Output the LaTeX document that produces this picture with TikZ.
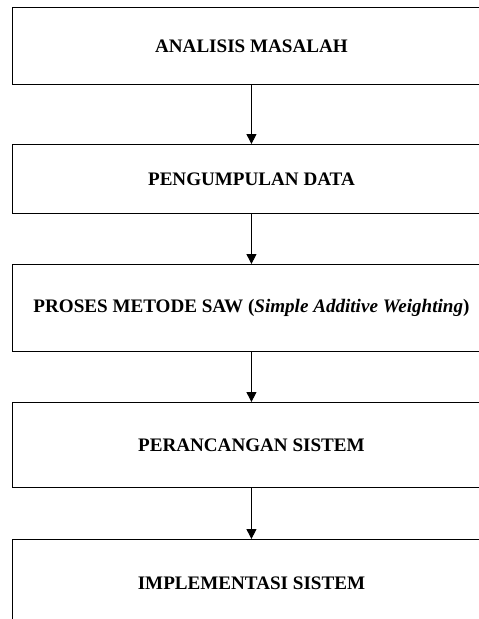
\documentclass[tikz,border=0pt]{standalone}
\usepackage{fontspec}
\setmainfont{Liberation Serif}
\usetikzlibrary{arrows.meta}
\begin{document}
\begin{tikzpicture}[x=1pt,y=-1pt,
  stage/.style={draw=black, line width=0.9pt, rectangle, minimum width=478pt,
    anchor=north west, inner sep=0pt,
    font=\fontsize{19.1}{22}\selectfont\bfseries},
  flow/.style={draw=black, line width=0.9pt, -{Triangle[width=10pt,length=10pt]}}]
  \useasboundingbox (0,0) rectangle (479,619);
  \clip (0,0) rectangle (479,619);
  % process stages, top to bottom
  \node[stage, minimum height=77pt] (s1) at (12,7) {ANALISIS MASALAH};
  \node[stage, minimum height=69pt] (s2) at (12,144) {PENGUMPULAN DATA};
  \node[stage, minimum height=87pt] (s3) at (12,264)
    {PROSES METODE SAW (\textit{Simple Additive Weighting})};
  \node[stage, minimum height=85pt] (s4) at (12,402) {PERANCANGAN SISTEM};
  \node[stage, minimum height=88pt] (s5) at (12,539) {IMPLEMENTASI SISTEM};
  % connectors between consecutive stages
  \draw[flow] (s1.south) -- (s2.north);
  \draw[flow] (s2.south) -- (s3.north);
  \draw[flow] (s3.south) -- (s4.north);
  \draw[flow] (s4.south) -- (s5.north);
\end{tikzpicture}
\end{document}
